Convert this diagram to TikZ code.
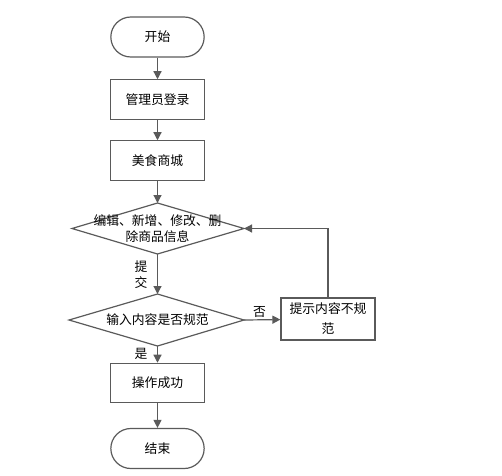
\documentclass[tikz,border=0pt]{standalone}
\usepackage{fontspec}
\setmainfont{Noto Sans CJK SC}
\usetikzlibrary{arrows.meta,shapes.geometric}
\definecolor{ln}{HTML}{5A5A5A}
\tikzset{
  px/.style={x=0.75pt,y=-0.75pt},
  base/.style={draw=ln,line width=0.9pt,font=\fontsize{9.6pt}{12pt}\selectfont,align=center,inner sep=0pt},
  term/.style={base,rounded corners=15pt,minimum width=70pt,minimum height=30pt},
  proc/.style={base,minimum width=70pt,minimum height=29.5pt},
  arr/.style={draw=ln,line width=0.9pt,-{Triangle[length=6pt,width=6pt]}},
  lab/.style={font=\fontsize{9.6pt}{12pt}\selectfont,align=center,inner sep=0pt}
}
\begin{document}
\begin{tikzpicture}[px]
\useasboundingbox (0,0) rectangle (502,475);
\node[term] (start) at (157.5,37) {开始};
\node[proc] (login) at (157.5,99.5) {管理员登录};
\node[proc] (shop) at (157.5,160.5) {美食商城};
\draw[draw=ln,line width=0.9pt] (157.5,203) -- (244,228.5) -- (157.5,254) -- (72,228.5) -- cycle;
\node[lab] (d1t) at (157.5,229) {编辑、新增、修改、删\\除商品信息};
\coordinate (d1top) at (157.5,203);
\coordinate (d1bot) at (157.5,254);
\coordinate (d1right) at (244,228.5);
\draw[draw=ln,line width=0.9pt] (157.5,294) -- (244,320) -- (157.5,346) -- (69,320) -- cycle;
\node[lab] (d2t) at (157.5,320) {输入内容是否规范};
\coordinate (d2top) at (157.5,294);
\coordinate (d2bot) at (157.5,346);
\coordinate (d2right) at (244,320);
\node[proc,minimum width=70.5pt,minimum height=31.5pt] (tip) at (328,319) {提示内容不规\\[3pt]范};
\node[proc] (ok) at (157.5,383) {操作成功};
\node[term] (end) at (157.5,448.5) {结束};
\draw[arr] (start) -- (login);
\draw[arr] (login) -- (shop);
\draw[arr] (shop) -- (d1top);
\draw[arr] (d1bot) -- (d2top);
\draw[arr] (d2right) -- (tip);
\draw[arr] (tip.north) |- (d1right);
\draw[arr] (d2bot) -- (ok);
\draw[arr] (ok) -- (end);
\node[lab] (ti) at (141,275) {提\\交};
\node[lab] (no) at (259.5,312) {否};
\node[lab] (yes) at (141,354) {是};
\end{tikzpicture}
\end{document}
